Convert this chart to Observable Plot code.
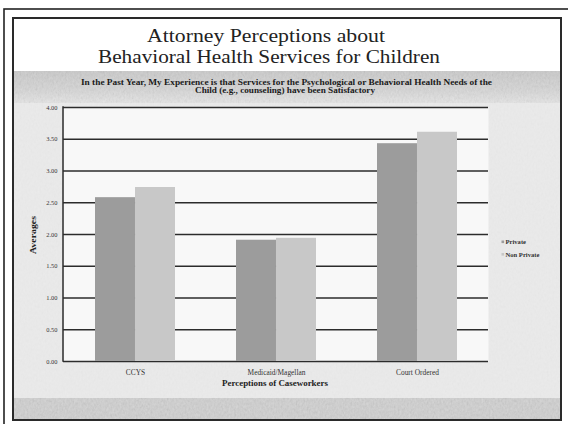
<!DOCTYPE html>
<html>
<head>
<meta charset="utf-8">
<script src="https://cdn.jsdelivr.net/npm/d3@7"></script>
<script src="https://cdn.jsdelivr.net/npm/@observablehq/plot@0.6"></script>
<style>
  html, body { margin: 0; padding: 0; background: #fff; }
  #page { position: relative; width: 568px; height: 424px; overflow: hidden; background: #fff; }
  #decor { position: absolute; left: 0; top: 0; }
  #chart { position: absolute; left: 14px; top: 71px; }
  #chart svg { display: block; }
</style>
</head>
<body>
<div id="page">
<svg id="decor" width="568" height="424" xmlns="http://www.w3.org/2000/svg">
  <defs>
    <filter id="grain" x="0" y="0" width="100%" height="100%">
      <feTurbulence type="fractalNoise" baseFrequency="0.55 0.35" numOctaves="3" seed="7" result="n"/>
      <feColorMatrix in="n" type="matrix" values="0.33 0.33 0.33 0 0  0.33 0.33 0.33 0 0  0.33 0.33 0.33 0 0  0 0 0 0 1"/>
    </filter>
    <linearGradient id="topband" x1="0" y1="0" x2="0" y2="1">
      <stop offset="0" stop-color="#cccccc"/>
      <stop offset="0.6" stop-color="#d9d9d9"/>
      <stop offset="1" stop-color="#e9e9e9"/>
    </linearGradient>
  </defs>
  <!-- outer frame -->
  <rect x="4" y="9" width="700" height="600" fill="none" stroke="#222" stroke-width="1.6"/>
  <!-- chart areas -->
  <rect x="14" y="71" width="546" height="348" fill="#ececec"/>
  <rect x="14" y="71" width="546" height="32" fill="url(#topband)"/>
  <rect x="14" y="398" width="546" height="21" fill="#d3d3d3"/>
  <rect x="14" y="71" width="546" height="32" filter="url(#grain)" opacity="0.2"/>
  <rect x="14" y="398" width="546" height="21" filter="url(#grain)" opacity="0.22"/>
  <rect x="14" y="103" width="546" height="295" filter="url(#grain)" opacity="0.06"/>
  <!-- inner frame -->
  <rect x="13" y="18" width="548" height="402" fill="none" stroke="#2a2a2a" stroke-width="2"/>
  <!-- title -->
  <g id="title" font-family="'Liberation Serif', serif" fill="#222" text-anchor="middle" font-size="19.5"></g>
  <!-- subtitle -->
  <g id="subtitle" font-family="'Liberation Serif', serif" font-weight="bold" fill="#1a1a1a" text-anchor="middle" font-size="7.6"></g>
  <!-- axis titles -->
  <g id="axisTitles" font-family="'Liberation Serif', serif" font-weight="bold" fill="#222" font-size="7.4"></g>
  <!-- legend -->
  <g id="legend" font-family="'Liberation Serif', serif" font-weight="bold" fill="#333" font-size="6.6"></g>
</svg>
<div id="chart"></div>
</div>
<script>
// ---- data ----
const categories = ["CCYS", "Medicaid/Magellan", "Court Ordered"];
const series = ["Private", "Non Private"];
const privateValues = [2.58, 1.91, 3.43];
const nonPrivateValues = [2.74, 1.94, 3.61];
const yTicks = [0, 0.5, 1, 1.5, 2, 2.5, 3, 3.5, 4];
const titleLines = ["Attorney Perceptions about", "Behavioral Health Services for Children"];
const subtitleLines = [
  "In the Past Year, My Experience is that Services for the Psychological or Behavioral Health Needs of the",
  "Child (e.g., counseling) have been Satisfactory"
];
const xTitle = "Perceptions of Caseworkers";
const yTitle = "Averages";
const seriesColors = ["#9c9c9c", "#c8c8c8"];

// ---- table ----
const rows = [];
categories.forEach((c, i) => {
  rows.push({category: c, series: series[0], value: privateValues[i]});
  rows.push({category: c, series: series[1], value: nonPrivateValues[i]});
});

// ---- decor text ----
const NS = "http://www.w3.org/2000/svg";
function addText(parent, x, y, str, attrs = {}) {
  const t = document.createElementNS(NS, "text");
  t.setAttribute("x", x); t.setAttribute("y", y);
  for (const k in attrs) t.setAttribute(k, attrs[k]);
  t.textContent = str;
  parent.appendChild(t);
  return t;
}
const tg = document.getElementById("title");
addText(tg, 266, 42, titleLines[0], {textLength: 238, lengthAdjust: "spacingAndGlyphs"});
addText(tg, 269, 63, titleLines[1], {textLength: 342, lengthAdjust: "spacingAndGlyphs"});
const sub = document.getElementById("subtitle");
addText(sub, 286.5, 84.5, subtitleLines[0], {textLength: 411, lengthAdjust: "spacingAndGlyphs"});
addText(sub, 285, 92.5, subtitleLines[1], {textLength: 180, lengthAdjust: "spacingAndGlyphs"});
const at = document.getElementById("axisTitles");
addText(at, 275, 385.5, xTitle, {"text-anchor": "middle", textLength: 106, lengthAdjust: "spacingAndGlyphs"});
addText(at, 0, 0, yTitle, {"text-anchor": "middle", transform: "translate(35.5,235) rotate(-90)", textLength: 38, lengthAdjust: "spacingAndGlyphs"});
const lg = document.getElementById("legend");
series.forEach((s, i) => {
  const y = 242 + i * 12.5;
  const r = document.createElementNS(NS, "rect");
  r.setAttribute("x", 501.5); r.setAttribute("y", y - 1.5);
  r.setAttribute("width", 2.6); r.setAttribute("height", 2.6);
  r.setAttribute("fill", seriesColors[i]);
  lg.appendChild(r);
  addText(lg, 505.5, y + 2.3, s);
});

// ---- plot ----
const W = 546, H = 327, mL = 49, mR = 72, mT = 36, mB = 37;
const padInner = 0.435;
const bandW = (W - mL - mR) / categories.length * (1 - padInner);

const chart = Plot.plot({
  width: W,
  height: H,
  marginLeft: mL,
  marginRight: mR,
  marginTop: mT,
  marginBottom: mB,
  style: {background: "transparent", fontFamily: "'Liberation Serif', serif", color: "#333", overflow: "visible"},
  x: {domain: categories, paddingInner: padInner, paddingOuter: padInner / 2, axis: null},
  y: {domain: [0, 4], axis: null},
  marks: [
    Plot.frame({fill: "#f8f8f8", stroke: null}),
    Plot.ruleY(yTicks, {stroke: "#2c2c2c", strokeWidth: 1.5}),
    Plot.barY(rows.filter(d => d.series === series[0]), {x: "category", y: "value", fill: seriesColors[0], insetRight: bandW / 2}),
    Plot.barY(rows.filter(d => d.series === series[1]), {x: "category", y: "value", fill: seriesColors[1], insetLeft: bandW / 2}),
    Plot.axisX({tickSize: 0, tickPadding: 8, fontSize: 7.4, label: null, fill: "#333"}),
    Plot.axisY({ticks: yTicks, tickFormat: d => d.toFixed(2), tickSize: 0, tickPadding: 6, fontSize: 6.4, label: null, fill: "#333"})
  ]
});
document.getElementById("chart").appendChild(chart);

// y-axis line along the left edge of the frame, from the y scale's range
const yr = chart.scale("y").range;
d3.select(chart).append("line")
  .attr("x1", mL).attr("x2", mL)
  .attr("y1", yr[0] + 0.75).attr("y2", yr[1] - 0.75)
  .attr("stroke", "#2c2c2c").attr("stroke-width", 1.5);
</script>
</body>
</html>
